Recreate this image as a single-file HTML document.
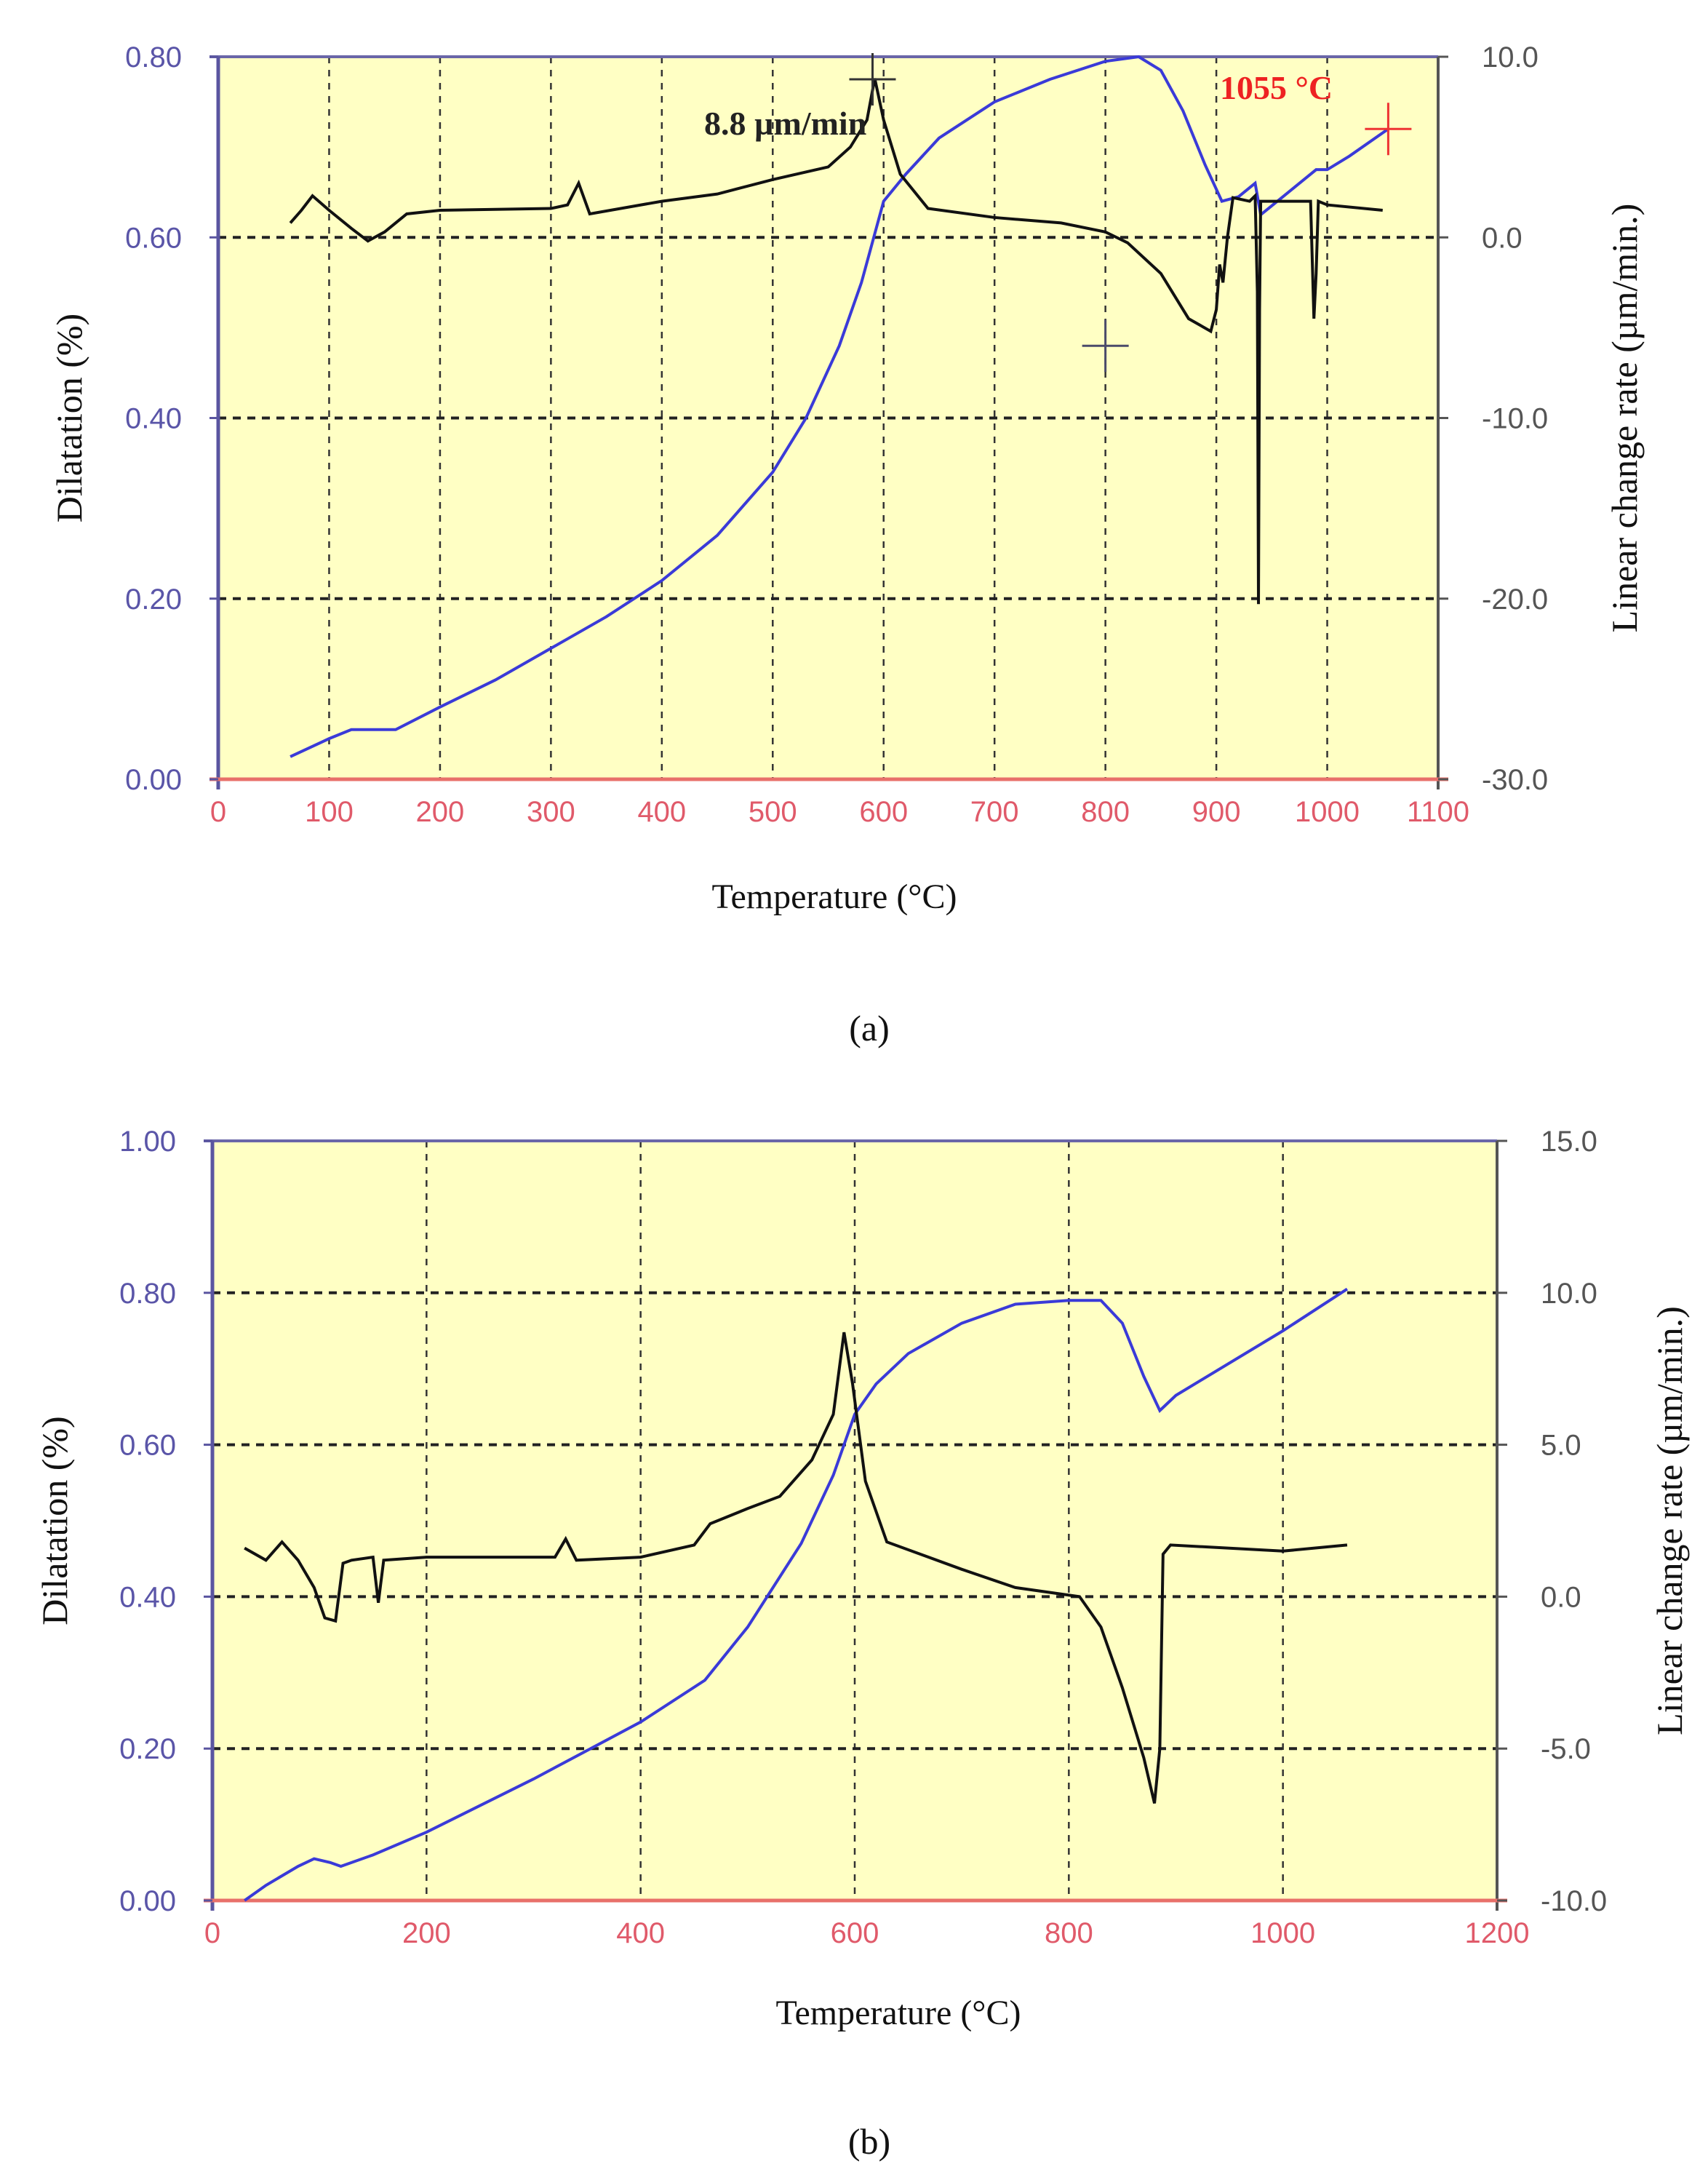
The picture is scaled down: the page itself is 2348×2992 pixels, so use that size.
<!DOCTYPE html>
<html><head><meta charset="utf-8"><style>
body{margin:0;background:#fff;width:2348px;height:2992px;overflow:hidden}
svg{display:block}
</style></head><body>
<svg id="chart" width="2348" height="2992" xmlns="http://www.w3.org/2000/svg" font-family="Liberation Sans, sans-serif"></svg>
<script>
// Panel (a) data
const aTemp = [65,100,120,140,160,200,250,300,350,400,450,500,530,560,580,600,620,650,700,750,800,830,850,870,890,905,920,935,940,960,980,990,1000,1020,1055];
const aDil = [0.025,0.045,0.055,0.055,0.055,0.08,0.11,0.145,0.18,0.22,0.27,0.34,0.4,0.48,0.55,0.64,0.67,0.71,0.75,0.775,0.795,0.80,0.785,0.74,0.68,0.64,0.645,0.66,0.625,0.645,0.665,0.675,0.675,0.69,0.72];
const aRateTemp = [65,75,85,100,120,135,150,170,200,300,315,325,335,400,450,500,550,570,585,592,600,615,640,700,760,800,820,850,875,895,900,903,906,910,915,930,935,937,938,939,940,945,985,988,990,992,1000,1050];
const aRate = [0.8,1.5,2.3,1.5,0.5,-0.2,0.3,1.3,1.5,1.6,1.8,3.0,1.3,2.0,2.4,3.2,3.9,5.0,6.5,8.8,6.5,3.5,1.6,1.1,0.8,0.3,-0.3,-2.0,-4.5,-5.2,-4.0,-1.5,-2.5,0,2.2,2.0,2.3,-3,-20.3,-4,2,2.0,2.0,-4.5,-2,2,1.8,1.5];
const aXTicks = [0,100,200,300,400,500,600,700,800,900,1000,1100];
const aYTicks = ["0.00","0.20","0.40","0.60","0.80"];
const aY2Ticks = ["-30.0","-20.0","-10.0","0.0","10.0"];
// Panel (b) data
const bTemp = [30,50,80,95,110,120,150,200,300,400,460,500,550,580,600,620,650,700,750,800,830,850,870,885,900,1000,1060];
const bDil = [0,0.02,0.045,0.055,0.05,0.045,0.06,0.09,0.16,0.235,0.29,0.36,0.47,0.56,0.64,0.68,0.72,0.76,0.785,0.79,0.79,0.76,0.69,0.645,0.665,0.75,0.805];
const bRateTemp = [30,50,65,80,95,105,115,122,130,150,155,160,200,320,330,340,400,450,465,500,530,560,580,590,598,610,630,700,750,810,830,850,870,880,885,888,895,1000,1060];
const bRate = [1.6,1.2,1.8,1.2,0.3,-0.7,-0.8,1.1,1.2,1.3,-0.2,1.2,1.3,1.3,1.9,1.2,1.3,1.7,2.4,2.9,3.3,4.5,6.0,8.7,7,3.8,1.8,0.9,0.3,0.0,-1.0,-3.0,-5.3,-6.8,-5,1.4,1.7,1.5,1.7];
const bXTicks = [0,200,400,600,800,1000,1200];
const bYTicks = ["0.00","0.20","0.40","0.60","0.80","1.00"];
const bY2Ticks = ["-10.0","-5.0","0.0","5.0","10.0","15.0"];

const svg = document.getElementById('chart');
const NS = 'http://www.w3.org/2000/svg';
function mk(tag, attrs, parent){
  const e = document.createElementNS(NS, tag);
  for (const k in attrs) e.setAttribute(k, attrs[k]);
  (parent||svg).appendChild(e); return e;
}
function txt(s, attrs, parent){ const e = mk('text', attrs, parent); e.textContent = s; return e; }

function panel(p){
  const g = mk('g', {});
  
  
  const X = t => p.x0 + (t - 0) / p.xMax * (p.x1 - p.x0);
  const Y = v => p.yB + v / p.yMax * (p.yT - p.yB);
  const Y2 = r => p.yB + (r - p.r0) / (p.r1 - p.r0) * (p.yT - p.yB);
  const bg = mk('rect', {x:p.x0, y:p.yT, width:p.x1-p.x0, height:p.yB-p.yT, fill:'#ffffc4'}, g);
  
  
  p.xTicks.forEach(t => { if (t>0 && t<p.xMax){
    const l = mk('line', {x1:X(t), x2:X(t), y1:p.yT, y2:p.yB, stroke:'#333', 'stroke-width':2.5, 'stroke-dasharray':'9 9'}, g);
    
    
  }});
  p.yTicks.forEach((s,i) => { const v = parseFloat(s); if (v>0 && v<p.yMax){
    const l = mk('line', {x1:p.x0, x2:p.x1, y1:Y(v), y2:Y(v), stroke:'#222', 'stroke-width':4, 'stroke-dasharray':'11 9'}, g);
    
    
  }});
  mk('line', {x1:p.x0-12, x2:p.x1, y1:p.yT, y2:p.yT, stroke:'#6a66a8', 'stroke-width':4}, g);
  mk('line', {x1:p.x0, x2:p.x0, y1:p.yT, y2:p.yB+14, stroke:'#5a55a0', 'stroke-width':5}, g);
  mk('line', {x1:p.x1, x2:p.x1, y1:p.yT, y2:p.yB+14, stroke:'#555', 'stroke-width':4}, g);
  mk('line', {x1:p.x0-12, x2:p.x1+14, y1:p.yB, y2:p.yB, stroke:'#e8706a', 'stroke-width':5}, g);
  p.xTicks.forEach(t => {
    const e = txt(String(t), {x:X(t), y:p.yB+58, 'text-anchor':'middle', 'font-size':40, fill:'#e05a6a'}, g);
    
    
  });
  p.yTicks.forEach(s => {
    const v = parseFloat(s);
    mk('line', {x1:p.x0-12, x2:p.x0, y1:Y(v), y2:Y(v), stroke:'#5a55a0', 'stroke-width':3}, g);
    const e = txt(s, {x:p.x0-50, y:Y(v)+14, 'text-anchor':'end', 'font-size':40, fill:'#5a55a8'}, g);
    
    
  });
  p.y2Ticks.forEach(s => {
    const r = parseFloat(s);
    mk('line', {x1:p.x1, x2:p.x1+14, y1:Y2(r), y2:Y2(r), stroke:'#555', 'stroke-width':3}, g);
    const e = txt(s, {x:p.x1+60, y:Y2(r)+14, 'text-anchor':'start', 'font-size':40, fill:'#555'}, g);
    
    
  });
  const dl = mk('polyline', {points:p.temp.map((t,i)=>X(t)+','+Y(p.dil[i])).join(' '), fill:'none', stroke:'#3a3ad8', 'stroke-width':4}, g);
  
  
  const rl = mk('polyline', {points:p.rTemp.map((t,i)=>X(t)+','+Y2(p.rate[i])).join(' '), fill:'none', stroke:'#111', 'stroke-width':4}, g);
  
  
  const xt = txt('Temperature (°C)', {x:p.xtX, y:p.xtY, 'text-anchor':'middle', 'font-size':48, 'font-family':'Liberation Serif, serif', fill:'#111'}, g);
  
  
  const cy = (p.yT+p.yB)/2;
  const yt = txt('Dilatation (%)', {x:p.ytX, y:cy, 'text-anchor':'middle', 'font-size':50, 'font-family':'Liberation Serif, serif', fill:'#111', transform:`rotate(-90 ${p.ytX} ${cy})`}, g);
  
  
  const y2t = txt('Linear change rate (µm/min.)', {x:p.y2tX, y:cy, 'text-anchor':'middle', 'font-size':50, 'font-family':'Liberation Serif, serif', fill:'#111', transform:`rotate(-90 ${p.y2tX} ${cy})`}, g);
  
  
  const cap = txt(p.cap, {x:1195, y:p.capY, 'text-anchor':'middle', 'font-size':50, 'font-family':'Liberation Serif, serif', fill:'#111'}, g);
  
  
  return {g, X, Y};
}

const A = panel({name:'panel-a-chart', x0:300, x1:1977, yT:78, yB:1071, xMax:1100, yMax:0.8, r0:-30, r1:10,
  xTicks:aXTicks, yTicks:aYTicks, y2Ticks:aY2Ticks, temp:aTemp, dil:aDil, rTemp:aRateTemp, rate:aRate,
  xtX:1147, xtY:1248, ytX:112, y2tX:2250, cap:'(a)', capY:1430});
const B = panel({name:'panel-b-chart', x0:292, x1:2058, yT:1568, yB:2612, xMax:1200, yMax:1.0, r0:-10, r1:15,
  xTicks:bXTicks, yTicks:bYTicks, y2Ticks:bY2Ticks, temp:bTemp, dil:bDil, rTemp:bRateTemp, rate:bRate,
  xtX:1235, xtY:2782, ytX:92, y2tX:2312, cap:'(b)', capY:2960});

function cross(cx, cy, col, name){
  const g = mk('g', {stroke:col, 'stroke-width':3}, A.g);
  
  
  mk('line', {x1:cx-32, x2:cx+32, y1:cy, y2:cy}, g);
  mk('line', {x1:cx, x2:cx, y1:cy-36, y2:cy+36}, g);
}
cross(A.X(590), A.Y(0.775), '#333', 'peak-marker');
cross(A.X(800), A.Y(0.48), '#4a4a6a', 'cursor-marker');
cross(A.X(1055), A.Y(0.72), '#ee3333', 'end-marker');
const t1 = txt('8.8 µm/min', {x:968, y:185, 'font-size':46, 'font-weight':'bold', 'font-family':'Liberation Serif, serif', fill:'#222'}, A.g);


const t2 = txt('1055 °C', {x:1677, y:136, 'font-size':46, 'font-weight':'bold', 'font-family':'Liberation Serif, serif', fill:'#ee2222'}, A.g);


</script>
</body></html>
